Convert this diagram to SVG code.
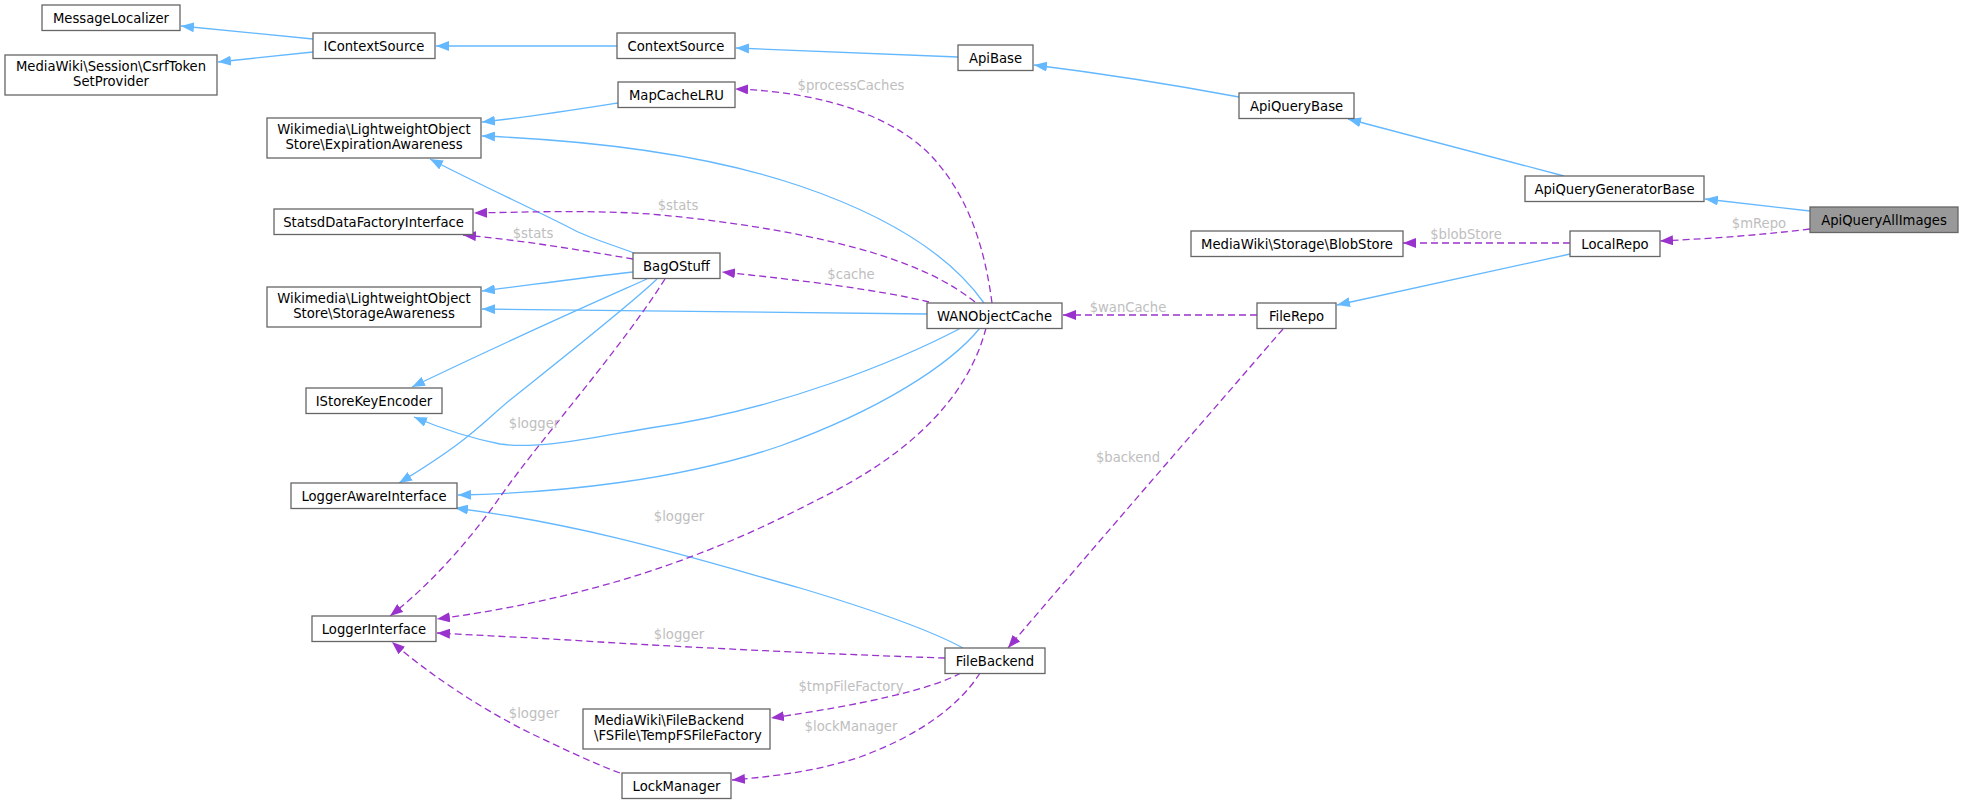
<svg xmlns="http://www.w3.org/2000/svg" width="1963" height="804" viewBox="0 0 1963 804">
<style>
.node rect{fill:#ffffff;stroke:#666666;stroke-width:1.3}
.node.hl rect{fill:#999999}
.node text{font-family:"DejaVu Sans","Liberation Sans",sans-serif;font-size:13.2px;fill:#000000;text-anchor:middle}
.node text.left{text-anchor:start}
.inh{fill:none;stroke:#63b8ff;stroke-width:1.3;marker-end:url(#ab)}
.use{fill:none;stroke:#9a32cd;stroke-width:1.3;stroke-dasharray:7,4;marker-end:url(#ap)}
.lbl{font-family:"DejaVu Sans","Liberation Sans",sans-serif;font-size:13.2px;fill:#bebebe;text-anchor:middle}
</style>
<defs>
<marker id="ab" viewBox="0 0 13 10" refX="13" refY="5" markerWidth="13" markerHeight="10" markerUnits="userSpaceOnUse" orient="auto"><path d="M0,0 L13,5 L0,10 z" fill="#63b8ff"/></marker>
<marker id="ap" viewBox="0 0 13 10" refX="13" refY="5" markerWidth="13" markerHeight="10" markerUnits="userSpaceOnUse" orient="auto"><path d="M0,0 L13,5 L0,10 z" fill="#9a32cd"/></marker>
</defs>
<rect x="0" y="0" width="1963" height="804" fill="#ffffff"/>
<g id="edges">
<path class="inh" d="M313,39 L181,26"/>
<path class="inh" d="M313,52 L218,62"/>
<path class="inh" d="M617,46 L436,46"/>
<path class="inh" d="M958,57 L736,48"/>
<path class="inh" d="M1239,97 C1180,86 1090,72 1034,65"/>
<path class="inh" d="M1564,176 L1348,119"/>
<path class="inh" d="M1810,211 L1705,199"/>
<path class="inh" d="M1570,254 L1337,305"/>
<path class="inh" d="M618,103 C580,109 530,117 482,122"/>
<path class="inh" d="M984,303 C955,262 900,220 800,186 C700,152 580,140 482,136"/>
<path class="inh" d="M634,253 C610,244 590,238 576,231 C540,212 480,185 430,159"/>
<path class="inh" d="M633,272 C580,278 530,285 482,291"/>
<path class="inh" d="M927,314 C800,313 600,310 482,309"/>
<path class="inh" d="M647,279 C600,300 520,335 412,387"/>
<path class="inh" d="M961,328 C900,360 780,410 650,428 C600,436 540,450 500,444 C470,438 440,428 414,417"/>
<path class="inh" d="M657,279 C630,305 560,360 510,400 C480,425 470,440 399,483"/>
<path class="inh" d="M980,328 C950,365 880,410 780,446 C680,480 560,493 458,495"/>
<path class="inh" d="M963,648 C930,630 880,612 800,588 C700,560 590,525 455,508"/>

<path class="use" d="M992,303 C985,250 970,200 935,160 C900,120 830,92 735,89"/>
<text class="lbl" x="851" y="89.5">$processCaches</text>
<path class="use" d="M975,302 C950,282 920,268 880,255 C820,236 740,222 650,214 C590,210 530,212 474,213"/>
<text class="lbl" x="678" y="209.5">$stats</text>
<path class="use" d="M633,259 C580,250 520,240 463,235"/>
<text class="lbl" x="533" y="238">$stats</text>
<path class="use" d="M929,302 C880,290 800,280 722,272"/>
<text class="lbl" x="851" y="278.5">$cache</text>
<path class="use" d="M665,279 C620,350 540,440 500,497 C470,540 430,585 390,616"/>
<text class="lbl" x="534" y="427.5">$logger</text>
<path class="use" d="M986,328 C970,390 920,450 817,500 C740,540 620,595 437,619"/>
<text class="lbl" x="679" y="521">$logger</text>
<path class="use" d="M945,658 C850,655 700,648 600,642 C540,638 490,636 437,633"/>
<text class="lbl" x="679" y="638.5">$logger</text>
<path class="use" d="M620,773 C590,762 560,747 530,733 C480,708 430,675 392,642"/>
<text class="lbl" x="534" y="718">$logger</text>
<path class="use" d="M961,673 C930,690 860,705 771,718"/>
<text class="lbl" x="851" y="690.5">$tmpFileFactory</text>
<path class="use" d="M980,673 C960,705 920,735 860,757 C820,770 780,776 732,780"/>
<text class="lbl" x="851" y="730.5">$lockManager</text>
<path class="use" d="M1257,315 L1063,315"/>
<text class="lbl" x="1128" y="311.5">$wanCache</text>
<path class="use" d="M1283,329 C1200,425 1100,540 1008,648"/>
<text class="lbl" x="1128" y="461.5">$backend</text>
<path class="use" d="M1570,243 L1403,243"/>
<text class="lbl" x="1466" y="239">$blobStore</text>
<path class="use" d="M1810,229 C1760,235 1720,238 1660,241"/>
<text class="lbl" x="1759" y="227.5">$mRepo</text>
</g>
<g id="MessageLocalizer" class="node"><rect x="42" y="5" width="138" height="25.5"/><text x="111" y="22.5">MessageLocalizer</text></g>
<g id="IContextSource" class="node"><rect x="313" y="33" width="122" height="25.5"/><text x="374" y="50.5">IContextSource</text></g>
<g id="CsrfTokenSetProvider" class="node"><rect x="5" y="55" width="212" height="40"/><text x="111" y="71">MediaWiki\Session\CsrfToken</text><text x="111" y="86">SetProvider</text></g>
<g id="ContextSource" class="node"><rect x="617" y="33" width="118" height="25.5"/><text x="676" y="50.5">ContextSource</text></g>
<g id="ApiBase" class="node"><rect x="958" y="45" width="75" height="25.5"/><text x="995.5" y="62.5">ApiBase</text></g>
<g id="MapCacheLRU" class="node"><rect x="618" y="82" width="117" height="25.5"/><text x="676.5" y="99.5">MapCacheLRU</text></g>
<g id="ExpirationAwareness" class="node"><rect x="267" y="118" width="214" height="40"/><text x="374" y="134">Wikimedia\LightweightObject</text><text x="374" y="149">Store\ExpirationAwareness</text></g>
<g id="ApiQueryBase" class="node"><rect x="1239" y="93" width="115" height="25.5"/><text x="1296.5" y="110.5">ApiQueryBase</text></g>
<g id="ApiQueryGeneratorBase" class="node"><rect x="1525" y="176" width="179" height="25.5"/><text x="1614.5" y="193.5">ApiQueryGeneratorBase</text></g>
<g id="StatsdDataFactoryInterface" class="node"><rect x="274" y="209" width="199" height="25.5"/><text x="373.5" y="226.5">StatsdDataFactoryInterface</text></g>
<g id="ApiQueryAllImages" class="node hl"><rect x="1810" y="207" width="148" height="25.5"/><text x="1884" y="224.5">ApiQueryAllImages</text></g>
<g id="BlobStore" class="node"><rect x="1191" y="231" width="212" height="25.5"/><text x="1297" y="248.5">MediaWiki\Storage\BlobStore</text></g>
<g id="LocalRepo" class="node"><rect x="1570" y="231" width="90" height="25.5"/><text x="1615" y="248.5">LocalRepo</text></g>
<g id="BagOStuff" class="node"><rect x="633" y="253" width="87" height="25.5"/><text x="676.5" y="270.5">BagOStuff</text></g>
<g id="StorageAwareness" class="node"><rect x="267" y="287" width="214" height="40"/><text x="374" y="303">Wikimedia\LightweightObject</text><text x="374" y="318">Store\StorageAwareness</text></g>
<g id="WANObjectCache" class="node"><rect x="927" y="303" width="135" height="25.5"/><text x="994.5" y="320.5">WANObjectCache</text></g>
<g id="FileRepo" class="node"><rect x="1257" y="303" width="79" height="25.5"/><text x="1296.5" y="320.5">FileRepo</text></g>
<g id="IStoreKeyEncoder" class="node"><rect x="306" y="388" width="136" height="25.5"/><text x="374" y="405.5">IStoreKeyEncoder</text></g>
<g id="LoggerAwareInterface" class="node"><rect x="291" y="483" width="166" height="25.5"/><text x="374" y="500.5">LoggerAwareInterface</text></g>
<g id="LoggerInterface" class="node"><rect x="312" y="616" width="124" height="25.5"/><text x="374" y="633.5">LoggerInterface</text></g>
<g id="FileBackend" class="node"><rect x="945" y="648" width="100" height="25.5"/><text x="995" y="665.5">FileBackend</text></g>
<g id="TempFSFileFactory" class="node"><rect x="583" y="709" width="187" height="40"/><text class="left" x="594" y="725">MediaWiki\FileBackend</text><text class="left" x="594" y="739.5">\FSFile\TempFSFileFactory</text></g>
<g id="LockManager" class="node"><rect x="622" y="773" width="109" height="25.5"/><text x="676.5" y="790.5">LockManager</text></g>
</svg>
